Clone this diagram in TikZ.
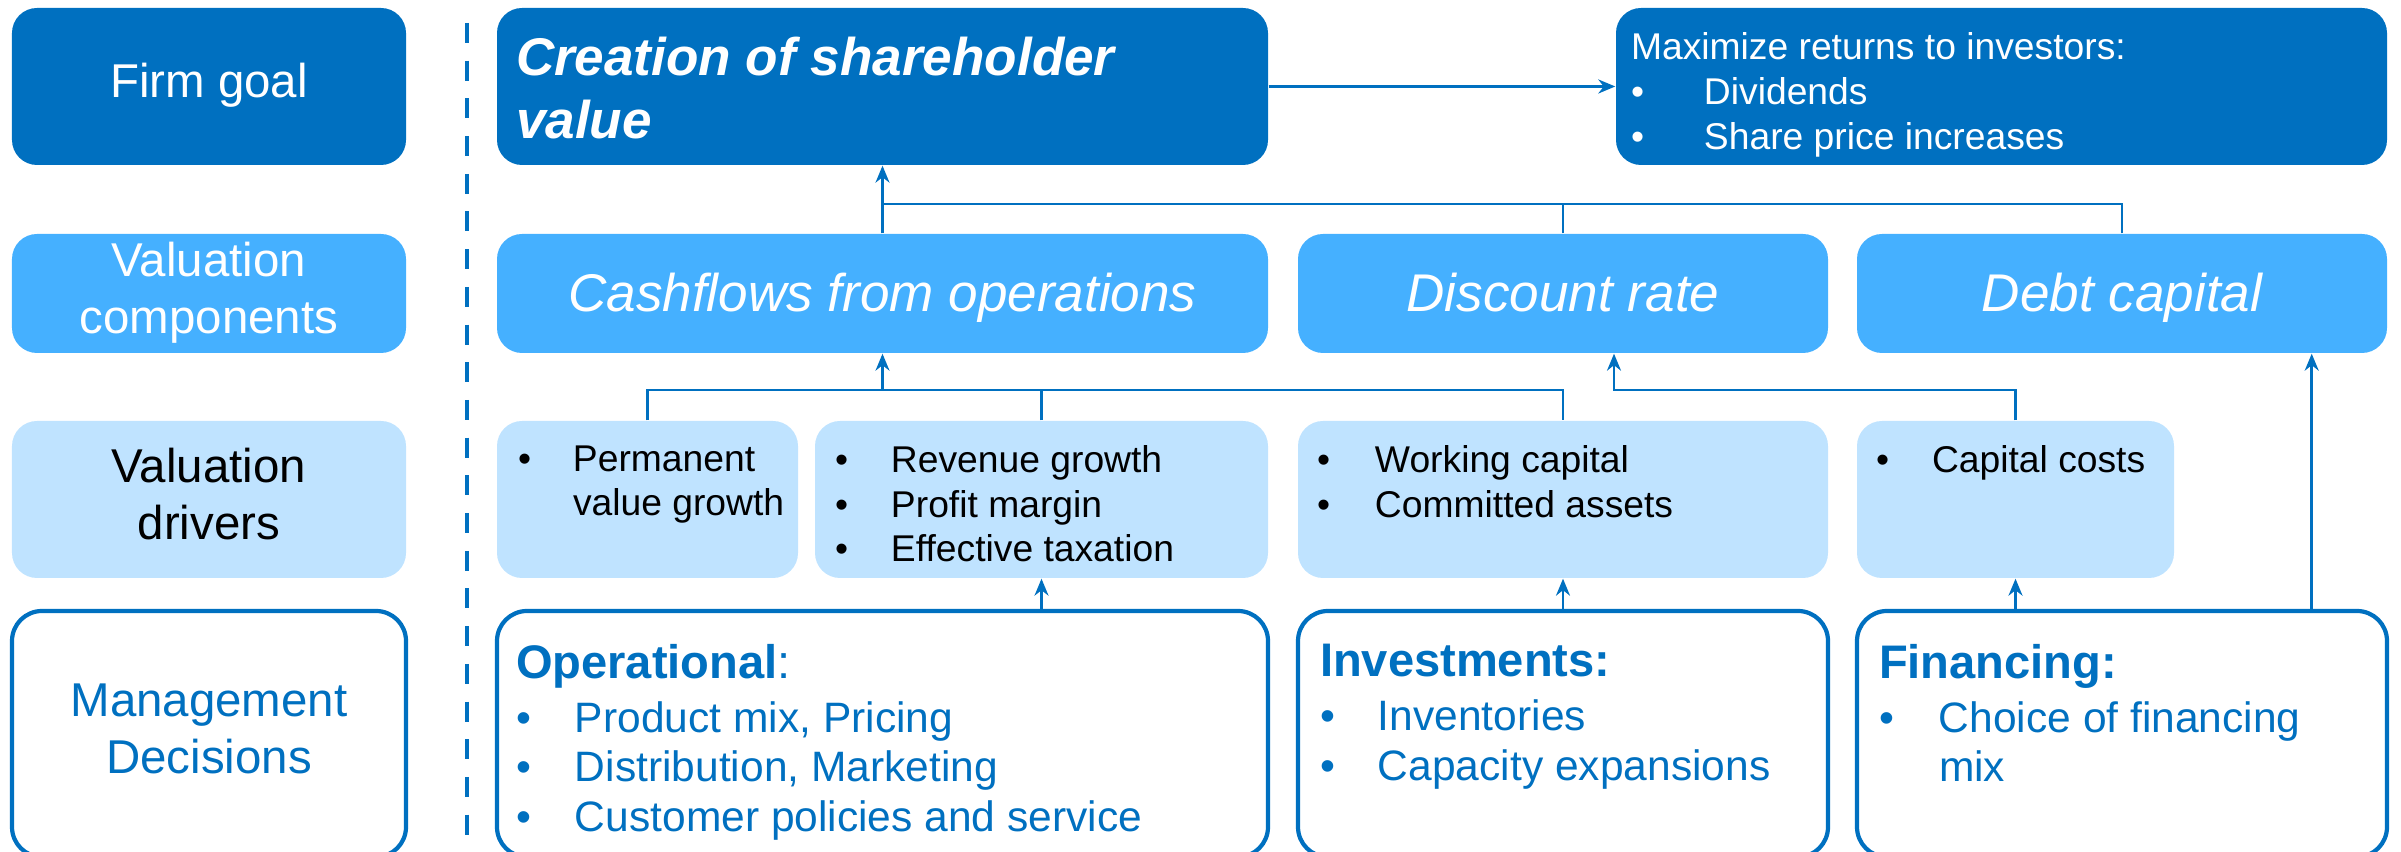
\documentclass[tikz,border=0pt]{standalone}
\usepackage{fontspec}
\setmainfont{Liberation Sans}
\usetikzlibrary{arrows.meta, calc}

\definecolor{darkblue}{RGB}{0,112,192}
\definecolor{midblue}{RGB}{69,176,255}
\definecolor{lightblue}{RGB}{191,227,255}

\newcommand{\labelfont}{\fontsize{13.5}{16.2}\selectfont}
\newcommand{\compfont}{\fontsize{15.1}{17.9}\selectfont}
\newcommand{\smallfont}{\fontsize{10.6}{12.7}\selectfont}
\newcommand{\headfont}{\fontsize{13.4}{15.4}\selectfont}
\newcommand{\listfont}{\fontsize{12.1}{14.2}\selectfont}

% full line height, so centred text sits on the same baseline
\newcommand{\pstrut}{\rule[-0.212em]{0pt}{1.117em}}
% centred row title, one or two lines
\newcommand{\rowtitle}[1]{\raisebox{-0.06cm}{\begin{tabular}{@{}c@{}}#1\end{tabular}}}
% text block pinned to the top of a box: width, left pad, height, text
\newcommand{\topfill}[4]{\parbox[c][#3][t]{#1}{\raggedright\leftskip=#2\relax #4}}
% bullet line
\newcommand{\itm}[2]{\makebox[#1][l]{\textbullet}#2}

\tikzstyle{goalbox} = [
    rectangle,
    rounded corners=0.25cm,
    minimum height=1.57cm,
    inner sep=0pt,
    fill=darkblue,
    text=white
]
\tikzstyle{compbox} = [
    rectangle,
    rounded corners=0.25cm,
    minimum height=1.19cm,
    inner sep=0pt,
    fill=midblue,
    text=white,
    font=\compfont\itshape,
    execute at begin node=\pstrut,
    execute at end node=\pstrut
]
\tikzstyle{driverbox} = [
    rectangle,
    rounded corners=0.25cm,
    minimum height=1.57cm,
    inner sep=0pt,
    fill=lightblue,
    text=black,
    font=\smallfont
]
\tikzstyle{decisionbox} = [
    rectangle,
    rounded corners=0.3cm,
    minimum height=2.46cm,
    inner sep=0pt,
    draw=darkblue,
    line width=1.2pt,
    fill=white,
    text=darkblue
]
\tikzstyle{labeltext} = [
    minimum width=3.94cm,
    font=\labelfont,
    execute at begin node={},
    execute at end node={}
]
\tikzstyle{link} = [draw=darkblue, line width=0.7pt]
\tikzstyle{arrow} = [link, -{Stealth[length=0.17cm, width=0.14cm]}]

\begin{document}
\begin{tikzpicture}

\useasboundingbox (0,0) rectangle (24.01,8.52);

% row titles
\node (goalL) [goalbox, labeltext] at (2.09,7.655) {\rowtitle{Firm goal}};
\node (compL) [compbox, labeltext, node distance=2.07cm, below of=goalL] {\rowtitle{Valuation\\components}};
\node (drivL) [driverbox, labeltext, node distance=2.06cm, below of=compL] {\rowtitle{Valuation\\drivers}};
\node (deciL) [decisionbox, labeltext, node distance=2.345cm, below of=drivL] {\rowtitle{Management\\Decisions}};

\draw [darkblue, line width=1.1pt, dash pattern=on 0.2cm off 0.177cm] (4.67,8.29) -- (4.67,0);

% goal
\node (goal) [goalbox, minimum width=7.71cm] at (8.825,7.655)
{\topfill{7.71cm}{0.19cm}{0.99cm}{\compfont\bfseries\itshape Creation of shareholder\\value}};

\node (maxi) [goalbox, minimum width=7.71cm] at (20.015,7.655)
{\topfill{7.71cm}{0.15cm}{1.07cm}{\smallfont Maximize returns to investors:\\
\itm{0.73cm}{Dividends}\\
\itm{0.73cm}{Share price increases}}};

% components
\node (cash) [compbox, minimum width=7.71cm, node distance=2.07cm, below of=goal] {Cashflows from operations};
\node (disc) [compbox, minimum width=5.30cm] at (15.63,5.585) {Discount rate};
\node (debt) [compbox, minimum width=5.30cm] at (21.22,5.585) {Debt capital};

% drivers
\node (perm) [driverbox, minimum width=3.01cm] at (6.475,3.525)
{\topfill{3.01cm}{0.21cm}{1.08cm}{\itm{0.55cm}{Permanent}\\\hspace*{0.55cm}value growth}};

\node (rev) [driverbox, minimum width=4.53cm] at (10.415,3.525)
{\topfill{4.53cm}{0.20cm}{1.08cm}{\itm{0.56cm}{Revenue growth}\\
\itm{0.56cm}{Profit margin}\\
\itm{0.56cm}{Effective taxation}}};

\node (work) [driverbox, minimum width=5.30cm, node distance=2.06cm, below of=disc]
{\topfill{5.30cm}{0.19cm}{1.08cm}{\itm{0.58cm}{Working capital}\\
\itm{0.58cm}{Committed assets}}};

\node (cap) [driverbox, minimum width=3.17cm] at (20.155,3.525)
{\topfill{3.17cm}{0.19cm}{1.08cm}{\itm{0.56cm}{Capital costs}}};

% decisions
\node (oper) [decisionbox, minimum width=7.71cm, node distance=4.405cm, below of=cash]
{\topfill{7.71cm}{0.19cm}{1.80cm}{{\headfont\textbf{Operational}:\par}\vspace{0.04cm}
\listfont\itm{0.59cm}{Product mix, Pricing}\\
\itm{0.59cm}{Distribution, Marketing}\\
\itm{0.59cm}{Customer policies and service}}};

\node (inv) [decisionbox, minimum width=5.30cm, node distance=4.405cm, below of=disc]
{\topfill{5.30cm}{0.22cm}{1.80cm}{{\headfont\textbf{Investments:}\par}\vspace{0.04cm}
\listfont\itm{0.58cm}{Inventories}\\
\itm{0.58cm}{Capacity expansions}}};

\node (fin) [decisionbox, minimum width=5.30cm, node distance=4.405cm, below of=debt]
{\topfill{5.30cm}{0.22cm}{1.80cm}{{\headfont\textbf{Financing:}\par}\vspace{0.04cm}
\listfont\itm{0.60cm}{Choice of financing}\\
\hspace*{0.60cm}mix}};

% bus lines and taps
\coordinate (topbus) at (0,6.48);
\coordinate (midbus) at (0,4.62);
\coordinate (disctap) at ($(disc.south)+(0.51,0)$);
\coordinate (debttap) at ($(debt.south east)+(-0.76,0)$);

\draw [arrow, line width=1pt] (goal.east) -- (maxi.west);
\draw [arrow] (cash.north) -- (goal.south);
\draw [link] (debt.north) |- (topbus -| cash.north);
\draw [link] (disc.north) -- (disc.north |- topbus);

\draw [link] (perm.north) |- (midbus -| work.north) -- (work.north);
\draw [link] (rev.north) -- (rev.north |- midbus);
\draw [arrow] (midbus -| cash.south) -- (cash.south);
\draw [arrow] (cap.north) |- (midbus -| disctap) -- (disctap);

\draw [arrow] (oper.north -| rev.south) -- (rev.south);
\draw [arrow] (inv.north) -- (work.south);
\draw [arrow] (fin.north -| cap.south) -- (cap.south);
\draw [arrow] (fin.north -| debttap) -- (debttap);

\end{tikzpicture}
\end{document}
